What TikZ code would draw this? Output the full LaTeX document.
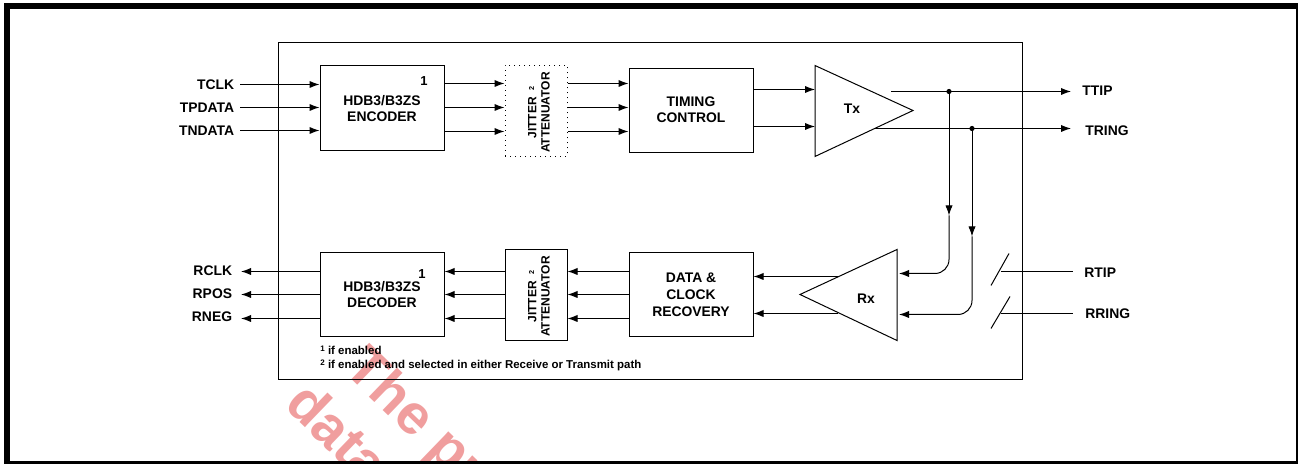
\documentclass[tikz,border=0pt]{standalone}
\usepackage{fontspec}
\setmainfont{Liberation Sans}
\usetikzlibrary{arrows.meta}
\newcommand{\lblfont}{\fontsize{6.95pt}{8pt}\selectfont\bfseries}
\newcommand{\notefont}{\fontsize{5.73pt}{6pt}\selectfont\bfseries}
\newcommand{\supfont}{\fontsize{4pt}{5pt}\selectfont\bfseries}
\tikzset{
  x=0.5pt,y=-0.5pt,
  wire/.style={line width=0.5pt,black},
  arr/.style={wire,-{Latex[length=5pt,width=3.6pt]}},
  blockbox/.style={draw=black,line width=0.5pt,fill=white,inner sep=0pt,align=center,font=\lblfont},
  lbl/.style={font=\lblfont,inner sep=0pt},
  vtext/.style={inner sep=0pt,rotate=90,align=center,font=\fontsize{6pt}{6.6pt}\selectfont\bfseries},
  supone/.style={inner sep=0pt,font=\fontsize{6.5pt}{7pt}\selectfont\bfseries},
  note/.style={font=\notefont,inner sep=0pt,anchor=base west},
  dot/.style={circle,fill=black,inner sep=0pt,minimum size=2.6pt},
  wm/.style={font=\fontsize{28pt}{30pt}\selectfont\bfseries,text=red!85!black,opacity=0.38,rotate=-44,inner sep=0pt,anchor=base west},
}
\begin{document}
\begin{tikzpicture}
\useasboundingbox (0,-0.5) rectangle (1298,463.5);
\fill[white] (0,-0.5) rectangle (1298,463.5);
% watermark
\begin{scope}
\clip (0,0) rectangle (1298,461);
\node[wm] (wma) at (342,370) {The pr};
\node[wm] (wmb) at (283,406) {data};
\end{scope}
% page frame
\draw[line width=3pt,black] (7,5.5) rectangle (1299,464);
% outer box
\node[draw=black,line width=0.5pt,minimum width=372pt,minimum height=168.5pt,inner sep=0pt] (chip) at (650,210.5) {};
% blocks
\node[blockbox,minimum width=62pt,minimum height=42.5pt] (enc) at (382,107.5) {};
\node[lbl,align=center] (enct) at (382,108) {HDB3/B3ZS\\ENCODER};
\node[blockbox,minimum width=62pt,minimum height=42pt] (dec) at (382,294) {};
\node[lbl,align=center] (dect) at (382,294.5) {HDB3/B3ZS\\DECODER};
\node[blockbox,dotted,minimum width=31pt,minimum height=45.5pt] (jita) at (536,110.5) {};
\node[blockbox,minimum width=31pt,minimum height=45.5pt] (jitb) at (536,294.5) {};
\node[blockbox,minimum width=62pt,minimum height=42pt] (tim) at (691,110) {};
\node[lbl,align=center] (timt) at (691,109.5) {TIMING\\CONTROL};
\node[blockbox,minimum width=62pt,minimum height=42pt] (rec) at (691,294) {};
\node[lbl,align=center,font=\fontsize{6.95pt}{8.5pt}\selectfont\bfseries] (rect) at (691,294.5) {DATA \&\\CLOCK\\RECOVERY};
\node[vtext] (jitat) at (539,112) {JITTER \ \raisebox{1.2pt}{\fontsize{3.6pt}{4pt}\selectfont 2}\\ATTENUATOR};
\node[vtext] (jitbt) at (539,296) {JITTER \ \raisebox{1.2pt}{\fontsize{3.6pt}{4pt}\selectfont 2}\\ATTENUATOR};
\node[supone] (sa) at (424,81) {1};
\node[supone] (sb) at (422,274) {1};
% coordinates of triangles
\coordinate (txa) at (815,65); \coordinate (txb) at (815,156); \coordinate (txc) at (913,110);
\coordinate (rxa) at (897,249); \coordinate (rxb) at (897,340); \coordinate (rxc) at (800,294);
% left labels
\node[lbl,anchor=east] (tclk) at (234.5,84.5) {TCLK};
\node[lbl,anchor=east] (tpd) at (234.5,107.5) {TPDATA};
\node[lbl,anchor=east] (tnd) at (234.5,130.5) {TNDATA};
\node[lbl,anchor=east] (rclk) at (232.5,270.5) {RCLK};
\node[lbl,anchor=east] (rpos) at (232.5,293.5) {RPOS};
\node[lbl,anchor=east] (rneg) at (232.5,316.5) {RNEG};
\coordinate (ia) at (240,84); \coordinate (ib) at (240,107); \coordinate (ic) at (240,130);
\coordinate (oa) at (241,271); \coordinate (ob) at (241,294); \coordinate (oc) at (241,318);
\draw[arr] (ia) -- (ia -| enc.west);
\draw[arr] (ib) -- (ib -| enc.west);
\draw[arr] (ic) -- (ic -| enc.west);
\draw[arr] (oa -| dec.west) -- (oa);
\draw[arr] (ob -| dec.west) -- (ob);
\draw[arr] (oc -| dec.west) -- (oc);
% row arrows, top
\foreach \r in {83,107,131}{
  \coordinate (rw) at (0,\r);
  \draw[arr] (rw -| enc.east) -- (rw -| jita.west);
  \draw[arr] (rw -| jita.east) -- (rw -| tim.west);
}
% row arrows, bottom
\foreach \r in {271,294,318}{
  \coordinate (rw) at (0,\r);
  \draw[arr] (rw -| jitb.west) -- (rw -| dec.east);
  \draw[arr] (rw -| rec.west) -- (rw -| jitb.east);
}
% Tx inputs, Rx outputs (drawn beneath triangles)
\coordinate (ra) at (0,89); \coordinate (rb) at (0,126);
\draw[arr] (ra -| tim.east) -- (ra -| txa);
\draw[arr] (rb -| tim.east) -- (rb -| txa);
\coordinate (rc) at (838,276); \coordinate (rd) at (838,313);
\draw[arr] (rc) -- (rc -| rec.east);
\draw[arr] (rd) -- (rd -| rec.east);
% triangles
\draw[wire] (txa) -- (txb) -- (txc) -- cycle;
\draw[wire] (rxa) -- (rxb) -- (rxc) -- cycle;
\node[lbl] (txl) at (852,108.5) {Tx};
\node[lbl] (rxl) at (866,298.5) {Rx};
% TTIP, TRING
\coordinate (ttipo) at (1071,91); \coordinate (tringo) at (1071,128);
\coordinate (txo) at (891,91); \coordinate (txp) at (875,128);
\draw[arr] (txo) -- (ttipo);
\draw[arr] (txp) -- (tringo);
\node[lbl,anchor=west] (ttip) at (1082,90.5) {TTIP};
\node[lbl,anchor=west] (tring) at (1085,130.5) {TRING};
\node[dot] (da) at (949,91) {};
\node[dot] (db) at (972,128) {};
% loopback
\coordinate (va) at (949,215); \coordinate (vb) at (972,236);
\coordinate (ea) at (899,273); \coordinate (eb) at (899,314);
\draw[arr] (da) -- (va);
\draw[arr] (db) -- (vb);
\draw[arr,rounded corners=7pt] (va) -- (va |- ea) -- (ea);
\draw[arr,rounded corners=7pt] (vb) -- (vb |- eb) -- (eb);
% receive inputs
\coordinate (sla) at (991,285); \coordinate (slb) at (1009,253);
\coordinate (slc) at (991,328); \coordinate (sld) at (1010,296);
\draw[wire] (sla) -- (slb);
\draw[wire] (slc) -- (sld);
\node[lbl,anchor=west] (rtip) at (1084,272.5) {RTIP};
\node[lbl,anchor=west] (rring) at (1085,313.5) {RRING};
\coordinate (rte) at (1073,271); \coordinate (rre) at (1073,313);
\coordinate (rts) at (1001,271); \coordinate (rrs) at (1001,313);
\draw[wire] (rts) -- (rte);
\draw[wire] (rrs) -- (rre);
% footnotes
\node[note] (na) at (320,354.5) {\raisebox{1.5pt}{\supfont 1} if enabled};
\node[note] (nb) at (320,368.5) {\raisebox{1.5pt}{\supfont 2} if enabled and selected in either Receive or Transmit path};
\end{tikzpicture}
\end{document}
